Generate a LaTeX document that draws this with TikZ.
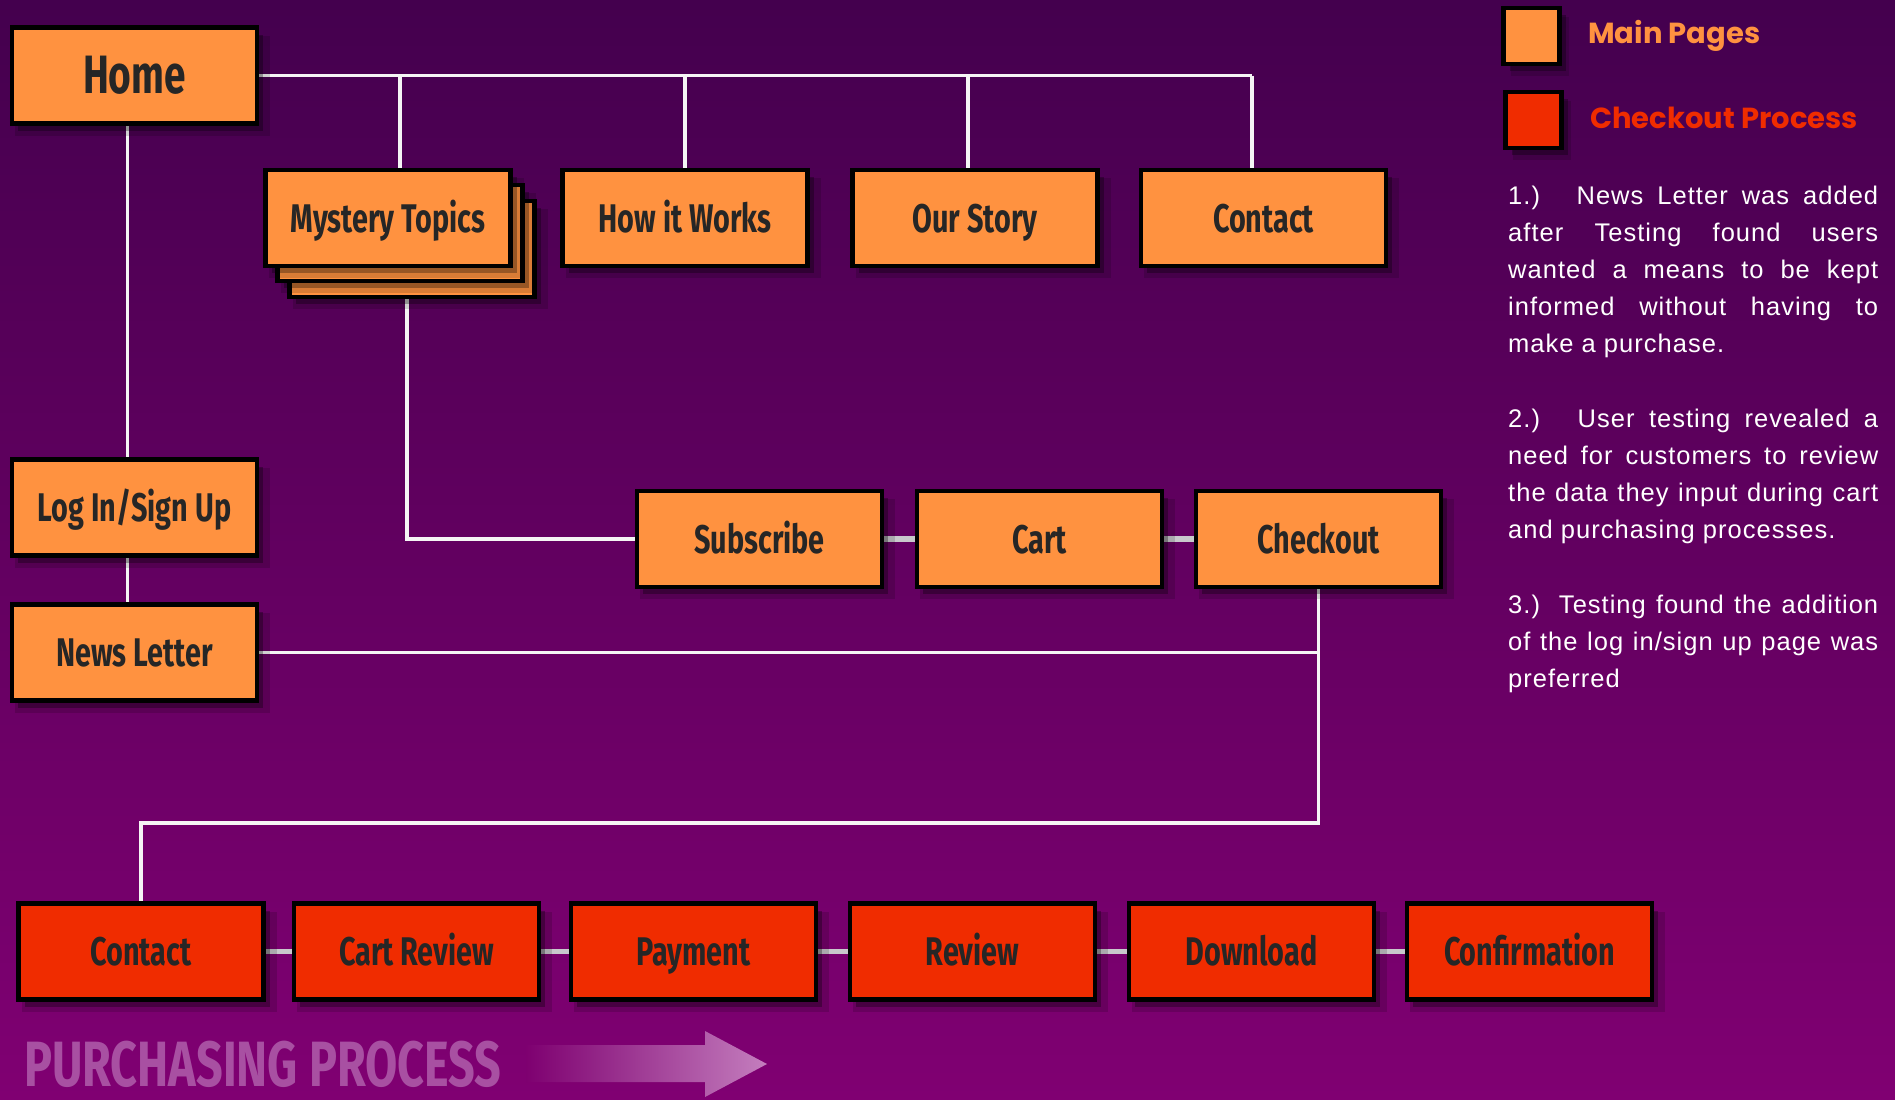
\documentclass[tikz,border=0pt]{standalone}
\usepackage{fontspec}
\setmainfont{Liberation Sans}
\newfontfamily\notefont[LetterSpace=4]{Liberation Sans}
\newfontfamily\boxfont[FakeStretch=0.72]{Fira Sans}
\newfontfamily\pfont[FakeStretch=0.73]{Fira Sans}
\newfontfamily\legfont{Poppins}
\usetikzlibrary{shadows}
\definecolor{bgtop}{RGB}{68,0,78}
\definecolor{bgbot}{RGB}{128,0,114}
\definecolor{pageor}{RGB}{255,146,64}
\definecolor{chkred}{RGB}{240,44,0}
\definecolor{boxtxt}{RGB}{38,38,38}
\definecolor{linkgray}{RGB}{200,200,204}
\definecolor{wirecol}{RGB}{245,245,245}
\definecolor{ppcol}{RGB}{168,80,162}
\definecolor{arrowend}{RGB}{196,126,190}
\definecolor{arrowstart}{RGB}{126,0,112}
\pgfdeclarelayer{bg}
\pgfdeclarelayer{lines}
\pgfsetlayers{bg,lines,main}
\begin{document}
\begin{tikzpicture}[x=1pt,y=-1pt,
  boxshadow/.style={general shadow={shadow xshift=8pt, shadow yshift=-10pt, shadow scale=1.04, fill=black, opacity=0.15},
                    general shadow={shadow xshift=6pt, shadow yshift=-7pt, fill=black, opacity=0.3}},
  pagebox/.style={draw=black, line width=4.5pt, fill=pageor, minimum width=245pt, minimum height=96pt,
    inner sep=0pt, text=boxtxt, text height=34pt, text depth=6pt,
    font=\boxfont\bfseries\fontsize{40}{40}\selectfont, boxshadow},
  redbox/.style={pagebox, fill=chkred},
  legbox/.style={draw=black, line width=4.5pt, minimum width=56pt, minimum height=56pt, inner sep=0pt, boxshadow},
  legtext/.style={anchor=base west, inner sep=0pt, font=\legfont\bfseries\fontsize{29}{29}\selectfont},
  wire/.style={draw=wirecol, line width=3.5pt},
  link/.style={draw=linkgray, line width=5.5pt}
]
\useasboundingbox (0,0) rectangle (1895,1100);
\begin{pgfonlayer}{bg}
  \shade[top color=bgtop, bottom color=bgbot] (0,0) rectangle (1895,1100);
\end{pgfonlayer}

% top row
\node[pagebox, text height=44pt, text depth=8pt, font=\boxfont\bfseries\fontsize{54}{54}\selectfont] (home) at (134.5,75.5) {Home};
\node[pagebox] (mystery3) at (412,249) {};
\node[pagebox] (mystery2) at (400,233) {};
\node[pagebox] (mystery) at (388,218) {Mystery Topics};
\node[pagebox] (howit) at (685,218) {How it Works};
\node[pagebox] (story) at (975,218) {Our Story};
\node[pagebox] (contact) at (1263.5,218) {Contact};

% left column
\node[pagebox] (login) at (134.5,507.5) {Log In/Sign Up};
\node[pagebox] (news) at (134.5,652.5) {News Letter};

% middle row
\node[pagebox] (subscribe) at (759.5,539) {Subscribe};
\node[pagebox] (cart) at (1039.5,539) {Cart};
\node[pagebox] (checkout) at (1318.5,539) {Checkout};

% checkout process
\node[redbox] (rcontact) at (141,951.5) {Contact};
\node[redbox] (cartreview) at (416.5,951.5) {Cart Review};
\node[redbox] (payment) at (693.5,951.5) {Payment};
\node[redbox] (review) at (972.5,951.5) {Review};
\node[redbox] (download) at (1251.5,951.5) {Download};
\node[redbox] (confirm) at (1529.5,951.5) {Confirmation};

\coordinate (topright) at (1252,75.5);
\coordinate (turn) at (0,823);

\begin{pgfonlayer}{lines}
  \draw[wire] (home.east) -- (topright);
  \draw[wire] ([xshift=12pt]mystery.north |- topright) -- ([xshift=12pt]mystery.north);
  \draw[wire] (howit.north |- topright) -- (howit.north);
  \draw[wire] ([xshift=-7pt]story.north |- topright) -- ([xshift=-7pt]story.north);
  \draw[wire] (topright) -- (topright |- contact.north);
  \draw[wire] ([xshift=-7pt]home.south) -- ([xshift=-7pt]login.north);
  \draw[wire] ([xshift=-7pt]login.south) -- ([xshift=-7pt]news.north);
  \draw[wire] ([xshift=19pt]mystery.south) -- ([xshift=19pt]mystery.south |- subscribe.west) -- (subscribe.west);
  \draw[wire] (news.east) -- (news.east -| checkout.south);
  \draw[wire] (checkout.south) -- (checkout.south |- turn) -- (rcontact.north |- turn) -- (rcontact.north);
  \draw[link] (subscribe.east) -- (cart.west);
  \draw[link] (cart.east) -- (checkout.west);
  \draw[link] (rcontact.east) -- (cartreview.west);
  \draw[link] (cartreview.east) -- (payment.west);
  \draw[link] (payment.east) -- (review.west);
  \draw[link] (review.east) -- (download.west);
  \draw[link] (download.east) -- (confirm.west);
\end{pgfonlayer}

% legend
\node[legbox, fill=pageor] (legmain) at (1531.5,36) {};
\node[legbox, fill=chkred] (legchk) at (1533.5,120) {};
\node[legtext, text=pageor] (legmaint) at (1588,43) {Main Pages};
\node[legtext, text=chkred] (legchkt) at (1590,128) {Checkout Process};

% notes
\node[anchor=base west, inner sep=0pt, text=white] (notes) at (1508,204) {\parbox[t]{370pt}{%
  \notefont\fontsize{25.5}{37.2}\selectfont\parindent=0pt\parskip=0pt
  \makebox[370pt][s]{1.)\hspace{8pt} News Letter was added}\par
  \makebox[370pt][s]{after Testing found users}\par
  \makebox[370pt][s]{wanted a means to be kept}\par
  \makebox[370pt][s]{informed without having to}\par
  make a purchase.\par
  \mbox{}\par
  \makebox[370pt][s]{2.)\hspace{8pt} User testing revealed a}\par
  \makebox[370pt][s]{need for customers to review}\par
  \makebox[370pt][s]{the data they input during cart}\par
  and purchasing processes.\par
  \mbox{}\par
  \makebox[370pt][s]{3.)\hspace{2pt} Testing found the addition}\par
  \makebox[370pt][s]{of the log in/sign up page was}\par
  preferred}};

% purchasing process
\node[anchor=base west, inner sep=0pt, text=ppcol, font=\pfont\bfseries\fontsize{64}{64}\selectfont] (ptitle) at (24,1086) {PURCHASING PROCESS};
\shade[left color=arrowstart, right color=arrowend]
  (526,1045) -- (705,1045) -- (705,1031) -- (767,1064) -- (705,1097) -- (705,1082) -- (526,1082) -- cycle;
\end{tikzpicture}
\end{document}
